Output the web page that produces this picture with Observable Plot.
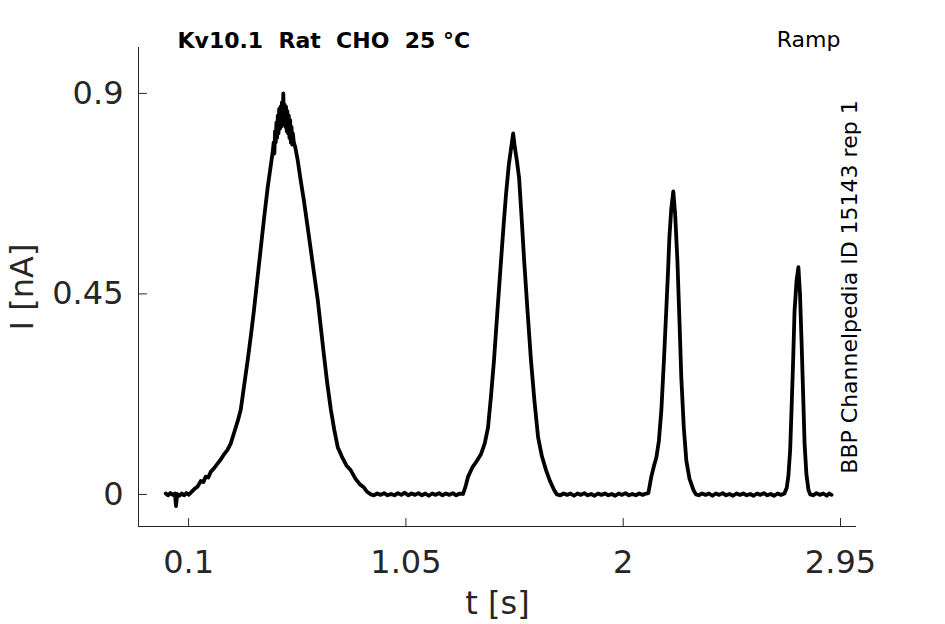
<!DOCTYPE html>
<html>
<head>
<meta charset="utf-8">
<script src="https://cdn.jsdelivr.net/npm/d3@7"></script>
<script src="https://cdn.jsdelivr.net/npm/@observablehq/plot@0.6"></script>
<style>
  html, body { margin: 0; padding: 0; background: #fff; overflow: hidden; }
  svg text { white-space: pre; }
</style>
</head>
<body>
<div id="chart"></div>
<script>
// ---- data ----
const time = [
  0.000, 0.010, 0.020, 0.030, 0.040, 0.045, 0.050, 0.060, 0.070, 0.080, 0.090, 0.100, 0.110,
  0.125, 0.140, 0.153, 0.165, 0.175, 0.186, 0.196, 0.210, 0.225, 0.240, 0.255, 0.270, 0.284,
  0.300, 0.315, 0.328, 0.343, 0.358, 0.372, 0.385, 0.400, 0.415, 0.430, 0.446, 0.457, 0.468,
  0.472, 0.475, 0.478, 0.481, 0.484, 0.487, 0.490, 0.493, 0.496, 0.499, 0.502, 0.505, 0.508,
  0.511, 0.514, 0.517, 0.520, 0.523, 0.526, 0.529, 0.532, 0.535, 0.538, 0.541, 0.544, 0.547,
  0.550, 0.553, 0.556, 0.560,
  0.566, 0.577, 0.590, 0.604, 0.619, 0.634, 0.650, 0.665, 0.678,
  0.691, 0.706, 0.722, 0.737, 0.752, 0.770, 0.790, 0.809, 0.830, 0.850, 0.866, 0.880, 0.897,
  0.910, 0.925, 0.940, 0.955, 0.970, 0.985, 1.000, 1.015, 1.030, 1.045, 1.060, 1.075, 1.090,
  1.105, 1.120, 1.135, 1.150, 1.165, 1.180, 1.195, 1.210, 1.225, 1.240, 1.255, 1.270, 1.285, 1.300,
  1.312, 1.322, 1.340, 1.360, 1.378, 1.395, 1.409, 1.422, 1.435, 1.450, 1.466, 1.478, 1.488,
  1.500, 1.512, 1.519, 1.526, 1.535, 1.545, 1.556, 1.567, 1.582, 1.597, 1.612, 1.628, 1.645,
  1.663, 1.680, 1.698, 1.710,
  1.725, 1.740, 1.755, 1.770, 1.785, 1.800, 1.815, 1.830, 1.845, 1.860, 1.875, 1.890, 1.905,
  1.920, 1.935, 1.950, 1.965, 1.980, 1.995, 2.010, 2.025, 2.040, 2.055, 2.070, 2.085, 2.100, 2.110,
  2.123, 2.135, 2.145, 2.156, 2.167, 2.178, 2.188, 2.196, 2.202, 2.210, 2.219, 2.227, 2.237,
  2.246, 2.254, 2.265, 2.276, 2.290, 2.307, 2.318,
  2.330, 2.345, 2.360, 2.375, 2.390, 2.405, 2.420, 2.435, 2.450, 2.465, 2.480, 2.495, 2.510,
  2.525, 2.540, 2.555, 2.570, 2.585, 2.600, 2.615, 2.630, 2.645, 2.660, 2.675, 2.690, 2.705,
  2.715, 2.722, 2.730, 2.736, 2.743, 2.749, 2.758, 2.766, 2.773, 2.780, 2.787, 2.793, 2.801,
  2.810, 2.818,
  2.830, 2.845, 2.860, 2.875, 2.890, 2.900, 2.911
];
const current = [
  0.002, -0.002, 0.003, -0.001, 0.002, -0.026, 0.001, -0.003, 0.002, -0.002, 0.003, -0.001, 0.004,
  0.012, 0.018, 0.030, 0.028, 0.040, 0.038, 0.050, 0.058, 0.068, 0.078, 0.090, 0.100, 0.114,
  0.140, 0.165, 0.190, 0.245, 0.300, 0.355, 0.410, 0.480, 0.550, 0.620, 0.690, 0.730, 0.770,
  0.790, 0.765, 0.815, 0.790, 0.835, 0.800, 0.850, 0.810, 0.865, 0.820, 0.870, 0.825, 0.880,
  0.830, 0.900, 0.835, 0.875, 0.825, 0.870, 0.815, 0.860, 0.810, 0.850, 0.800, 0.840, 0.790,
  0.825, 0.785, 0.810, 0.790,
  0.780, 0.750, 0.705, 0.660, 0.605, 0.550, 0.490, 0.435, 0.375,
  0.316, 0.250, 0.190, 0.145, 0.106, 0.085, 0.065, 0.054, 0.035, 0.022, 0.016, 0.006, 0.000,
  -0.002, 0.002, -0.001, 0.003, -0.002, 0.001, -0.002, 0.003, -0.001, 0.004, -0.002, 0.002, -0.001,
  0.003, -0.002, 0.002, -0.003, 0.002, -0.001, 0.003, -0.002, 0.002, -0.001, 0.003, -0.002, 0.002, 0.001,
  0.020, 0.040, 0.060, 0.075, 0.090, 0.115, 0.150, 0.220, 0.300, 0.410, 0.525, 0.610, 0.675,
  0.740, 0.785, 0.810, 0.780, 0.750, 0.710, 0.620, 0.525, 0.410, 0.300, 0.210, 0.128, 0.085,
  0.054, 0.030, 0.010, 0.000,
  -0.002, 0.002, -0.001, 0.002, -0.003, 0.002, -0.001, 0.003, -0.002, 0.001, -0.003, 0.002, -0.001,
  0.002, -0.002, 0.001, -0.003, 0.002, -0.001, 0.003, -0.002, 0.001, -0.002, 0.002, -0.001, 0.002, 0.003,
  0.040, 0.065, 0.083, 0.120, 0.190, 0.300, 0.410, 0.500, 0.577, 0.640, 0.680, 0.630, 0.525,
  0.390, 0.263, 0.150, 0.076, 0.035, 0.010, 0.000,
  -0.002, 0.002, -0.001, 0.002, -0.003, 0.002, -0.001, 0.003, -0.002, 0.001, -0.003, 0.002, -0.001,
  0.002, -0.002, 0.001, -0.003, 0.002, -0.001, 0.003, -0.002, 0.001, -0.003, 0.002, -0.001, 0.002,
  0.015, 0.040, 0.100, 0.190, 0.300, 0.410, 0.480, 0.510, 0.450, 0.340, 0.220, 0.114, 0.045,
  0.010, 0.000,
  -0.002, 0.003, -0.001, 0.002, -0.003, 0.002, -0.001
];
const xTicks = [0.1, 1.05, 2, 2.95];
const yTicks = [0, 0.45, 0.9];
const xDomain = [-0.119, 3.02];
const yDomain = [-0.072, 1.003];
const titleText = "Kv10.1  Rat  CHO  25 °C";
const protocolText = "Ramp";
const sideText = "BBP Channelpedia ID 15143 rep 1";
const xLabel = "t [s]";
const yLabel = "I [nA]";

const trace = time.map((t, i) => ({t, I: current[i]}));
const axisColor = "#262626";
const tickShape = {draw(context, l) { context.moveTo(0, 0); context.lineTo(0, -l); }};
const fmt = d => String(d);

const chart = Plot.plot({
  width: 945,
  height: 624,
  marginLeft: 138,
  marginRight: 89,
  marginTop: 47,
  marginBottom: 98,
  style: {fontFamily: "'DejaVu Sans', sans-serif", background: "#fff"},
  x: {domain: xDomain, axis: null},
  y: {domain: yDomain, axis: null},
  marks: [
    // axis lines
    Plot.ruleX([xDomain[0]], {stroke: axisColor, strokeWidth: 1}),
    Plot.ruleY([yDomain[0]], {stroke: axisColor, strokeWidth: 1}),
    // inward ticks
    Plot.vector(xTicks, {x: d => d, frameAnchor: "bottom", length: 8, rotate: 0, anchor: "start", shape: tickShape, stroke: axisColor, strokeWidth: 1}),
    Plot.vector(yTicks, {y: d => d, frameAnchor: "left", length: 8, rotate: 90, anchor: "start", shape: tickShape, stroke: axisColor, strokeWidth: 1}),
    // tick labels
    Plot.text(xTicks, {x: d => d, text: fmt, frameAnchor: "bottom", dy: 36, lineAnchor: "middle", fontSize: 32, fill: axisColor}),
    Plot.text(yTicks, {y: d => d, text: fmt, frameAnchor: "left", dx: -15, textAnchor: "end", lineAnchor: "middle", fontSize: 32, fill: axisColor}),
    // axis labels
    Plot.text([xLabel], {text: d => d, frameAnchor: "bottom", dy: 77, lineAnchor: "middle", fontSize: 32, fill: axisColor}),
    Plot.text([yLabel], {text: d => d, frameAnchor: "left", dx: -116, rotate: -90, textAnchor: "middle", lineAnchor: "middle", fontSize: 32, fill: axisColor}),
    // trace
    Plot.line(trace, {x: "t", y: "I", stroke: "#000", strokeWidth: 3.8, strokeLinejoin: "round"}),
    // annotations
    Plot.text([titleText], {text: d => d, frameAnchor: "top-left", dx: 39, dy: -7, textAnchor: "start", lineAnchor: "middle", fontWeight: "bold", fontSize: 22, fill: "#000"}),
    Plot.text([protocolText], {text: d => d, frameAnchor: "top-right", dx: -16, dy: -8, textAnchor: "end", lineAnchor: "middle", fontSize: 22, fill: "#000"}),
    Plot.text([sideText], {text: d => d, frameAnchor: "right", dx: -7, rotate: -90, textAnchor: "middle", lineAnchor: "middle", fontSize: 22, fill: "#000"})
  ]
});
document.getElementById("chart").appendChild(chart);
</script>
</body>
</html>
